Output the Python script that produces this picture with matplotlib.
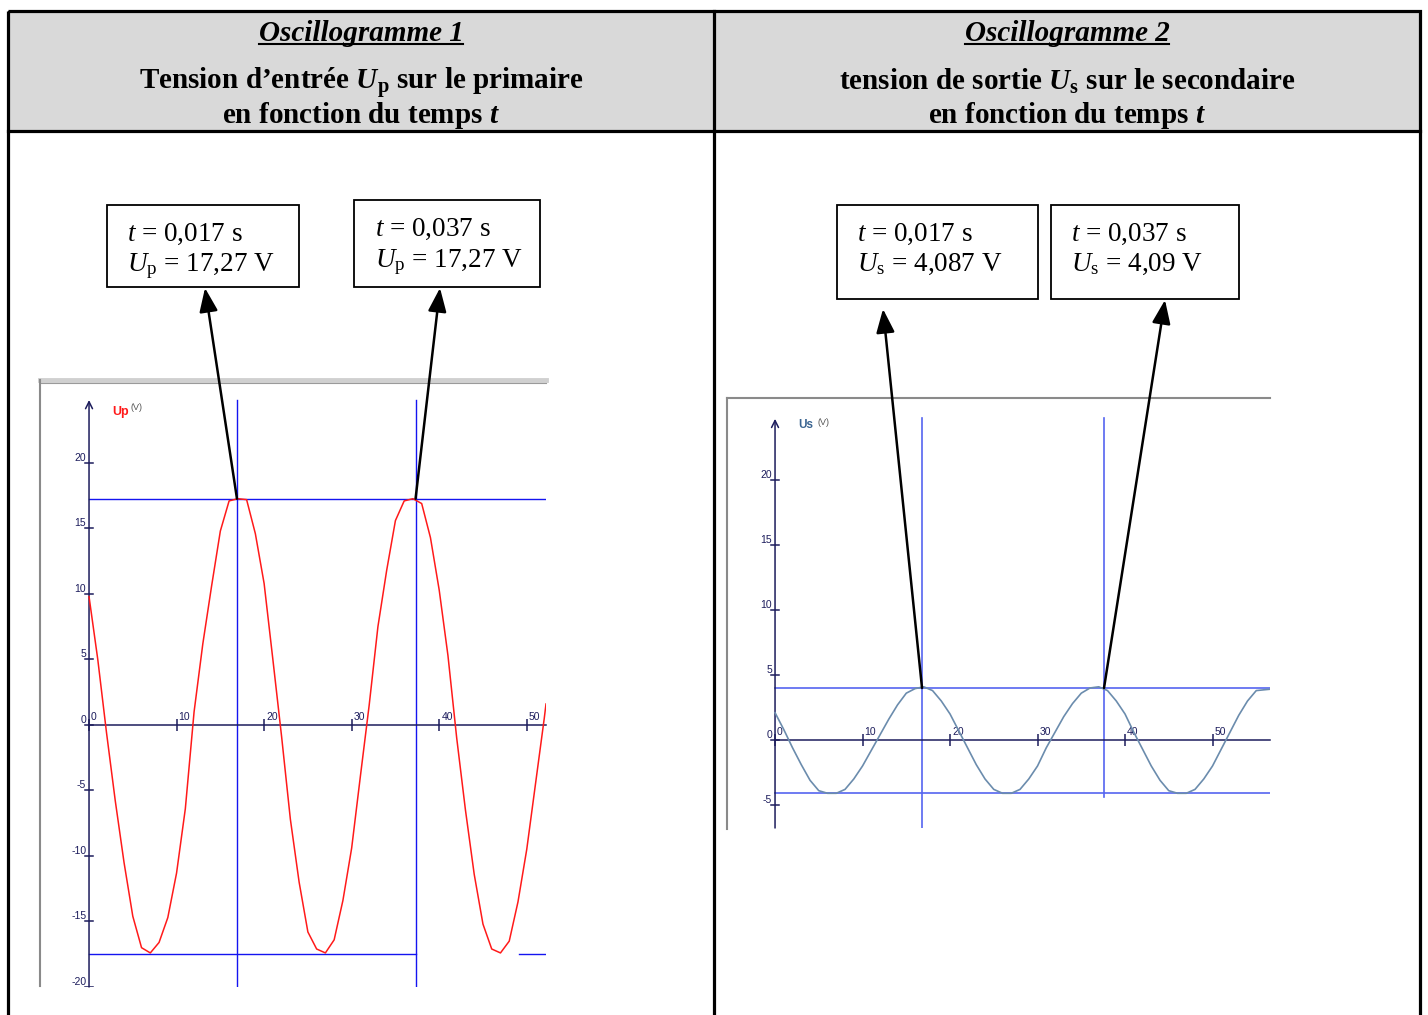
import matplotlib
matplotlib.use('Agg')
import matplotlib.pyplot as plt
from matplotlib.patches import Rectangle, ConnectionPatch

plt.rcParams['mathtext.fontset'] = 'custom'
plt.rcParams['mathtext.rm'] = 'Liberation Serif'
plt.rcParams['mathtext.it'] = 'Liberation Serif:italic'
plt.rcParams['mathtext.bf'] = 'Liberation Serif:bold'
plt.rcParams['mathtext.bfit'] = 'Liberation Serif:italic:bold'

# Oscillogramme 1 : Up (V) vs t (ms)
t_p = [0, 1, 2, 3, 4, 5, 6, 7, 8, 9, 10, 11, 12, 13, 14, 15, 16, 17, 18, 19, 20,
       21, 22, 23, 24, 25, 26, 27, 28, 29, 30, 31, 32, 33, 34, 35, 36, 37, 38, 39,
       40, 41, 42, 43, 44, 45, 46, 47, 48, 49, 50, 51, 52, 52.2]
up = [9.8, 5.0, -0.6, -5.8, -10.5, -14.6, -17.0, -17.4, -16.6, -14.7, -11.3, -6.4,
      1.0, 6.2, 10.6, 14.8, 17.1, 17.27, 17.2, 14.6, 10.8, 5.0, -0.9, -7.2, -12.0,
      -15.8, -17.1, -17.4, -16.4, -13.4, -9.4, -3.9, 1.5, 7.5, 11.8, 15.6, 17.1,
      17.27, 16.9, 14.3, 10.3, 5.3, -1.0, -6.5, -11.4, -15.2, -17.1, -17.4, -16.5,
      -13.5, -9.5, -4.5, 0.5, 1.6]

# Oscillogramme 2 : Us (V) vs t (ms)
t_s = [0, 1, 2, 3, 4, 5, 6, 7, 8, 9, 10, 11, 12, 13, 14, 15, 16, 17, 18, 19, 20,
       21, 22, 23, 24, 25, 26, 27, 28, 29, 30, 31, 32, 33, 34, 35, 36, 37, 38, 39,
       40, 41, 42, 43, 44, 45, 46, 47, 48, 49, 50, 51, 52, 53, 54, 55, 56.5]
us = [2.1, 0.8, -0.6, -1.9, -3.1, -3.9, -4.1, -4.1, -3.8, -3.0, -2.0, -0.8, 0.4,
      1.6, 2.7, 3.6, 3.95, 4.09, 3.8, 3.0, 2.0, 0.7, -0.6, -1.9, -3.0, -3.8, -4.1,
      -4.1, -3.8, -3.0, -2.0, -0.6, 0.6, 1.8, 2.8, 3.6, 4.0, 4.09, 3.8, 3.0, 2.0,
      0.6, -0.7, -2.0, -3.1, -3.9, -4.1, -4.1, -3.8, -3.0, -2.0, -0.7, 0.6, 1.9,
      3.0, 3.8, 3.9]

# cursor readings
annot_t = [0.017, 0.037]
annot_up = [17.27, 17.27]
annot_us = [4.087, 4.09]
cursor_left = [16.9, 37.3]
cursor_right = [16.8, 37.6]
up_min = -17.5
us_max, us_min = 4.0, -4.1

xticks = [0, 10, 20, 30, 40, 50]
yticks_left = [-20, -15, -10, -5, 0, 5, 10, 15, 20]
yticks_right = [-5, 0, 5, 10, 15, 20]

W, H = 1428, 1015
fig = plt.figure(figsize=(W / 100, H / 100), dpi=100)
bg = fig.add_axes([0, 0, 1, 1])
bg.set_xlim(0, W)
bg.set_ylim(H, 0)
bg.axis('off')

axis_col = '#1c1c5c'
serif = 'Liberation Serif'


def px_axes(x0, y0, x1, y1):
    return fig.add_axes([x0 / W, 1 - y1 / H, (x1 - x0) / W, (y1 - y0) / H])


# table
bg.add_patch(Rectangle((8, 11), 1412, 120, color='#d9d9d9', zorder=0))
bg.add_patch(Rectangle((8, 11), 1412, 1010, fill=False, lw=2.3, ec='k', zorder=5))
bg.plot([8, 1420], [131, 131], color='k', lw=2.3, zorder=5)
bg.plot([714, 714], [11, 1020], color='k', lw=2.3, zorder=5)

hsize = 21
titles = []
for cx, num in [(361, 1), (1067, 2)]:
    titles.append(bg.text(cx, 41, f'Oscillogramme {num}', ha='center', va='baseline',
                          fontsize=hsize, family=serif, style='italic', weight='bold'))
bg.text(361, 90, r'Tension d’entrée $\mathbfit{U}_{\mathbf{p}}$ sur le primaire',
        ha='center', va='baseline', fontsize=hsize, family=serif, weight='bold')
bg.text(1067, 90, r'tension de sortie $\mathbfit{U}_{\mathbf{s}}$ sur le secondaire',
        ha='center', va='baseline', fontsize=hsize, family=serif, weight='bold')
for cx in [361, 1067]:
    bg.text(cx, 123, r'en fonction du temps $\mathbfit{t}$', ha='center', va='baseline',
            fontsize=hsize, family=serif, weight='bold')

# screenshot frames
bg.plot([40, 546], [380, 380], color='#d0d0d0', lw=3.5)
bg.plot([40, 546], [382.5, 382.5], color='#9a9a9a', lw=0.8)
bg.plot([40, 40], [380, 986], color='#8a8a8a', lw=1.5)
bg.plot([727, 1270], [398, 398], color='#8a8a8a', lw=1.5)
bg.plot([727, 727], [398, 829], color='#8a8a8a', lw=1.5)


def setup(ax, xlim, ylim, yticks, ytop):
    ax.set_xlim(*xlim)
    ax.set_ylim(*ylim)
    ax.set_facecolor('none')
    for s in ['top', 'right', 'left']:
        ax.spines[s].set_visible(False)
    ax.spines['bottom'].set_position(('data', 0))
    ax.spines['bottom'].set_color(axis_col)
    ax.spines['bottom'].set_linewidth(1.1)
    ax.spines['bottom'].set_bounds(0, xlim[1])
    ax.annotate('', xy=(0, ytop), xytext=(0, ylim[0]),
                arrowprops=dict(arrowstyle='->,head_length=0.5,head_width=0.25',
                                color=axis_col, lw=1.1, shrinkA=0, shrinkB=0))
    ax.set_xticks(xticks)
    ax.set_yticks([])
    ax.tick_params(axis='x', direction='inout', length=8, width=1.1, color=axis_col,
                   labelbottom=False)
    for v in xticks:
        ax.annotate(str(v), (v, 0), xytext=(1.5, 2), textcoords='offset points',
                    ha='left', va='bottom', fontsize=7.5, color=axis_col,
                    family='Liberation Sans')
    for v in yticks:
        ax.plot([-0.45, 0.45], [v, v], color=axis_col, lw=1.1)
        ax.annotate(str(v), (0, v), xytext=(-2, 0), textcoords='offset points',
                    ha='right', va='bottom', fontsize=7.5, color=axis_col,
                    family='Liberation Sans')


# Oscillogramme 1
ax1 = px_axes(40, 383, 546, 987)
setup(ax1, (-5.6, 52.2), (-20.0, 26.1), yticks_left, 24.8)
blue1 = '#1414f0'
ax1.axhline(annot_up[0], xmin=5.6 / 57.8, color=blue1, lw=1)
ax1.plot([0, cursor_left[1]], [up_min, up_min], color=blue1, lw=1)
ax1.plot([49.1, 52.2], [up_min, up_min], color=blue1, lw=1)
for c in cursor_left:
    ax1.plot([c, c], [-20.0, 24.8], color=blue1, lw=1)
ax1.plot(t_p, up, color='#ff1a1a', lw=1.1, zorder=4)
ax1.text(2.6, 23.9, 'Up', color='#ff1a1a', fontsize=9, weight='bold',
         family='Liberation Sans', va='center')
ax1.text(4.7, 24.2, '(V)', color='#555555', fontsize=6.5,
         family='Liberation Sans', va='center')

# Oscillogramme 2
ax2 = px_axes(727, 400, 1270, 828)
setup(ax2, (-5.49, 56.57), (-6.77, 26.15), yticks_right, 24.7)
blue2 = '#5565f0'
ax2.axhline(us_max, xmin=5.49 / 62.06, color=blue2, lw=1.2)
ax2.axhline(us_min, xmin=5.49 / 62.06, color=blue2, lw=1.2)
ax2.plot([cursor_right[0]] * 2, [-6.77, 24.8], color=blue2, lw=1.2)
ax2.plot([cursor_right[1]] * 2, [-4.4, 24.8], color=blue2, lw=1.2)
ax2.plot(t_s, us, color='#6b8cad', lw=1.2, zorder=4)
ax2.text(2.6, 24.2, 'Us', color='#3a6491', fontsize=8.5, weight='bold',
         family='Liberation Sans', va='center')
ax2.text(4.8, 24.4, '(V)', color='#555555', fontsize=6.5,
         family='Liberation Sans', va='center')

# annotation boxes
boxes = [(107, 205, 192, 82), (354, 200, 186, 87), (837, 205, 201, 94), (1051, 205, 188, 94)]
for (x0, y0, w, h) in boxes:
    bg.add_patch(Rectangle((x0, y0), w, h, fill=False, ec='k', lw=1.3, zorder=6))

labels = [
    (127, 241, 271, annot_t[0], r'$U_{\mathrm{p}}$ = ' + f'{annot_up[0]:.2f}'.replace('.', ',')),
    (375, 236, 267, annot_t[1], r'$U_{\mathrm{p}}$ = ' + f'{annot_up[1]:.2f}'.replace('.', ',')),
    (857, 241, 271, annot_t[0], r'$U_{\mathrm{s}}$ = ' + f'{annot_us[0]:.3f}'.replace('.', ',')),
    (1071, 241, 271, annot_t[1], r'$U_{\mathrm{s}}$ = ' + f'{annot_us[1]:.2f}'.replace('.', ',')),
]
for x, y1, y2, tv, utxt in labels:
    bg.text(x, y1, r'$t$ = ' + f'{tv:.3f}'.replace('.', ',') + ' s', fontsize=19.5,
            family=serif, va='baseline', ha='left')
    bg.text(x, y2, utxt + ' V', fontsize=19.5, family=serif, va='baseline', ha='left')

arrow_kw = dict(arrowstyle='-|>,head_length=0.9,head_width=0.35', color='k', lw=1.8,
                mutation_scale=16, shrinkA=0, shrinkB=0, zorder=10)
ends = [(ax1, cursor_left[0], annot_up[0], (205, 288)),
        (ax1, cursor_left[1], annot_up[1], (440, 288)),
        (ax2, cursor_right[0], us_max, (883, 309)),
        (ax2, cursor_right[1], us_max, (1165, 300))]
for ax, tx, ty, tip in ends:
    con = ConnectionPatch(xyA=(tx, ty), coordsA=ax.transData, xyB=tip,
                          coordsB=bg.transData, **arrow_kw)
    fig.add_artist(con)

# underline the titles
fig.canvas.draw()
r = fig.canvas.get_renderer()
inv = bg.transData.inverted()
for tt in titles:
    bb = tt.get_window_extent(r)
    (xa, ya), (xb, yb) = inv.transform([[bb.x0, bb.y0], [bb.x1, bb.y1]])
    bg.plot([xa, xb], [44, 44], color='k', lw=1.5)

fig.savefig('out.png', dpi=100)
